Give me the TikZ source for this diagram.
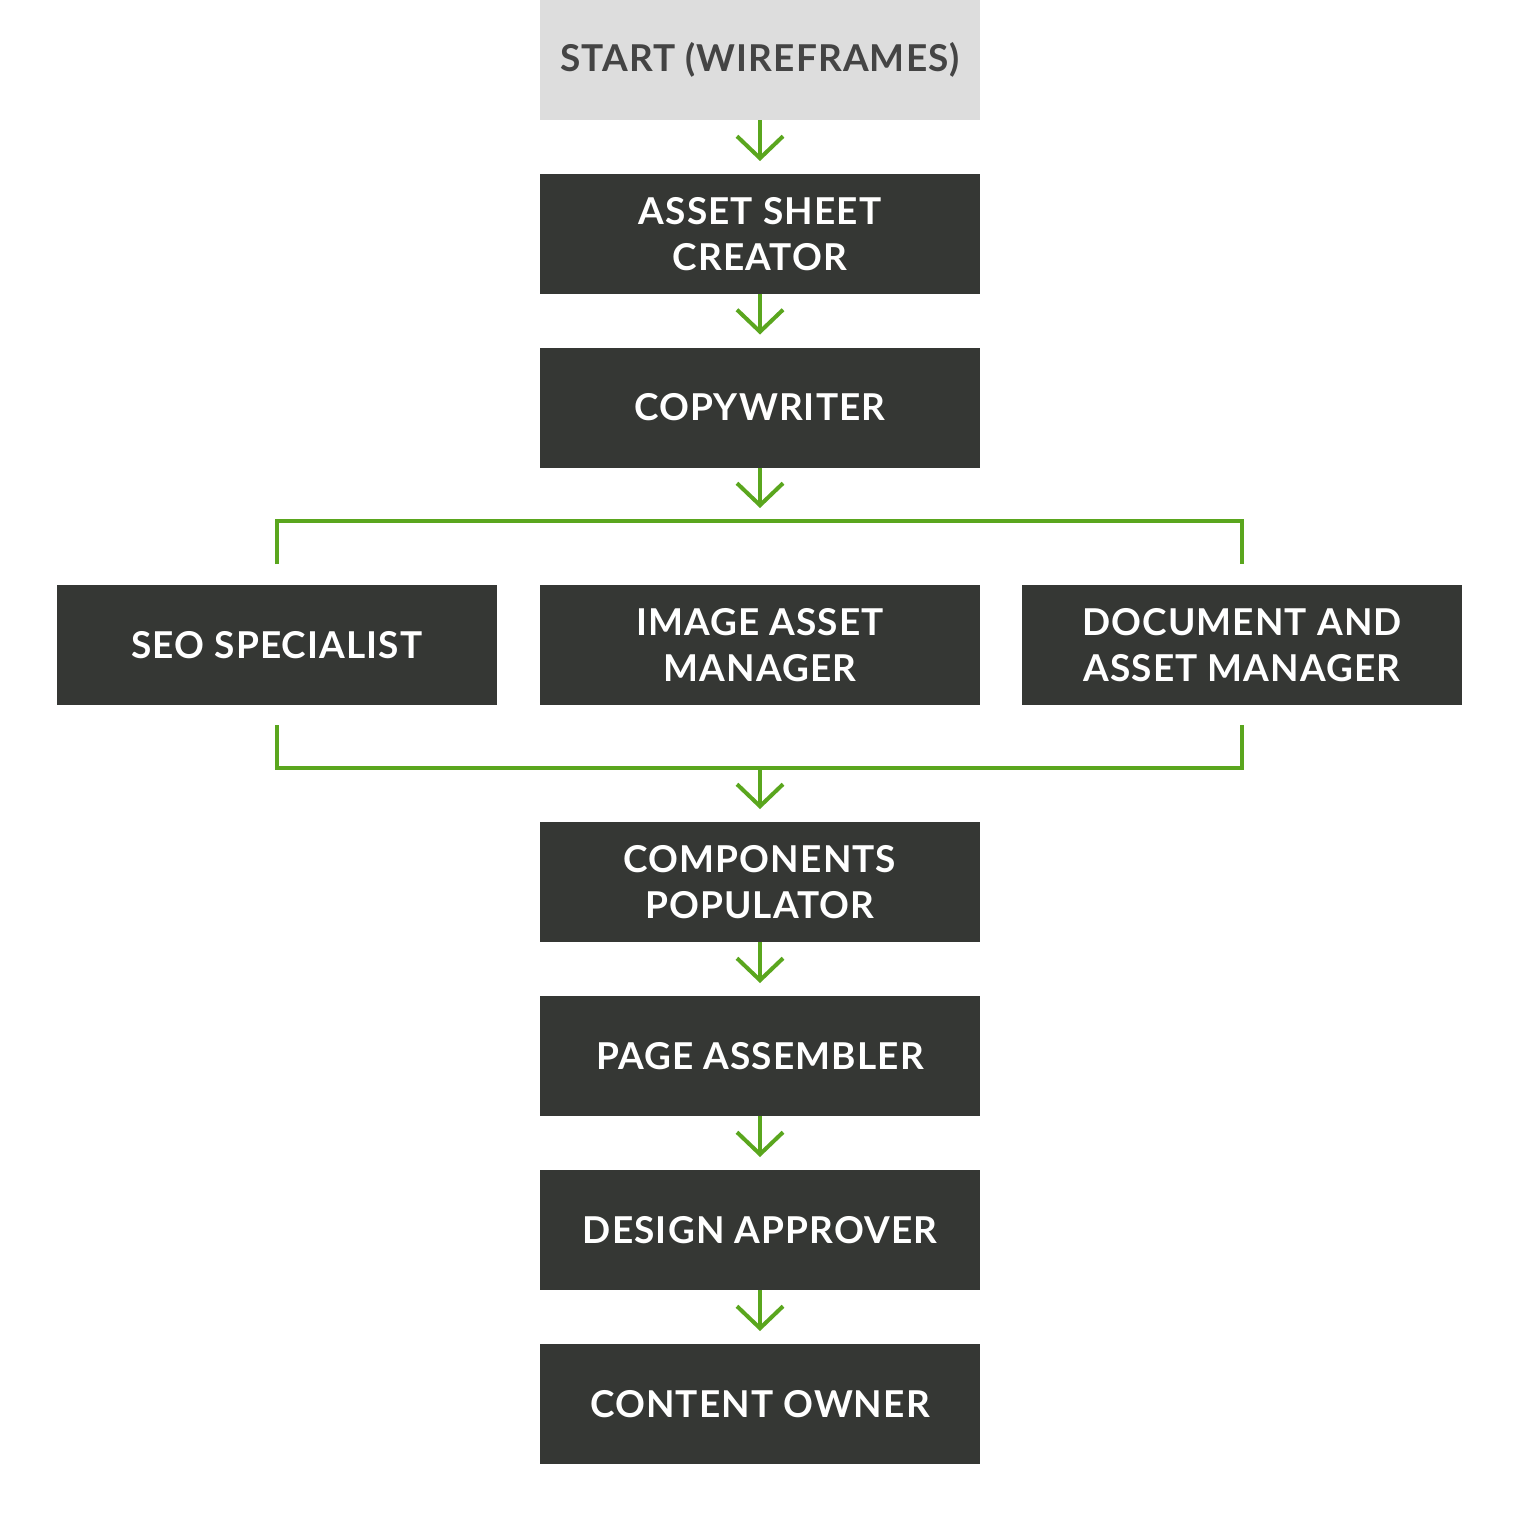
\documentclass[tikz,border=0pt]{standalone}
\usepackage{fontspec}
\setmainfont{Lato}[LetterSpace=3]
\usetikzlibrary{arrows.meta}
\definecolor{boxdark}{RGB}{53,55,52}
\definecolor{boxlight}{RGB}{221,221,221}
\definecolor{txtdark}{RGB}{68,68,68}
\definecolor{flowgreen}{RGB}{90,166,30}
\tikzset{
  stepbox/.style={rectangle, fill=boxdark, text=white, minimum width=440pt, minimum height=120pt,
    inner sep=0pt, outer sep=0pt, align=center, font=\fontsize{37}{46}\selectfont\bfseries},
  startbox/.style={stepbox, fill=boxlight, text=txtdark},
  grn/.style={draw=flowgreen, line width=4pt},
  arr/.style={grn, -{Straight Barb[length=22pt,width=46pt,line width=4pt]}, shorten >=13pt},
}
\begin{document}
\begin{tikzpicture}[x=1pt,y=-1pt]
\useasboundingbox[fill=white] (0,0) rectangle (1520,1520);
\node[startbox] (start) at (760,60) {START (WIREFRAMES)};
\node[stepbox] (asset) at (760,234) {ASSET SHEET\\CREATOR};
\node[stepbox] (copy) at (760,407.5) {COPYWRITER};
\node[stepbox] (seo) at (277,645) {SEO SPECIALIST};
\node[stepbox] (image) at (760,645) {IMAGE ASSET\\MANAGER};
\node[stepbox] (doc) at (1242,645) {DOCUMENT AND\\ASSET MANAGER};
\node[stepbox] (comp) at (760,882) {COMPONENTS\\POPULATOR};
\node[stepbox] (page) at (760,1056) {PAGE ASSEMBLER};
\node[stepbox] (design) at (760,1230) {DESIGN APPROVER};
\node[stepbox] (owner) at (760,1404) {CONTENT OWNER};
\coordinate (tb) at (760,521);
\coordinate (bb) at (760,768);
\draw[arr] (start.south) -- (asset.north);
\draw[arr] (asset.south) -- (copy.north);
\draw[arr] (copy.south) -- (tb);
\draw[grn] ([yshift=21pt]seo.north) |- (tb) -| ([yshift=21pt]doc.north);
\draw[grn] ([yshift=-20pt]seo.south) |- (bb) -| ([yshift=-20pt]doc.south);
\draw[arr] (bb) -- (comp.north);
\draw[arr] (comp.south) -- (page.north);
\draw[arr] (page.south) -- (design.north);
\draw[arr] (design.south) -- (owner.north);
\end{tikzpicture}
\end{document}
